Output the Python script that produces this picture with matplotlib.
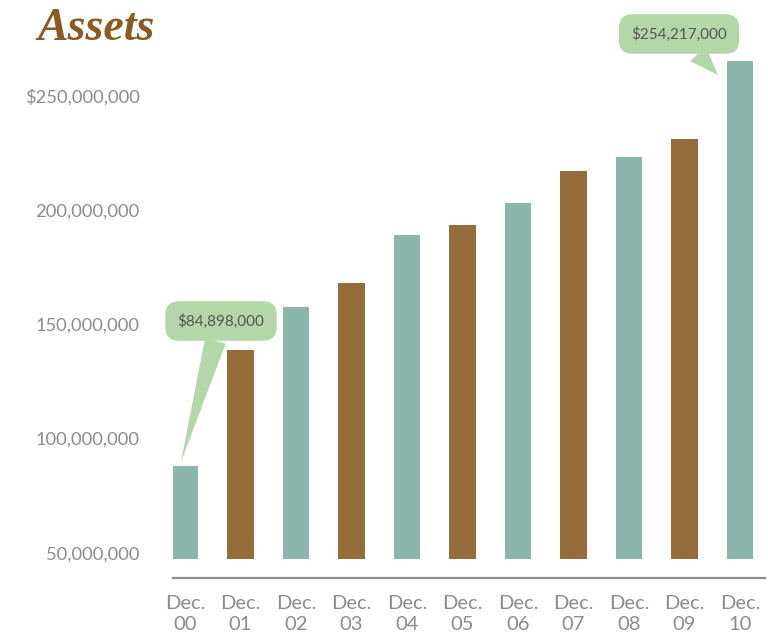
import matplotlib
matplotlib.use("Agg")
import matplotlib.pyplot as plt

categories = ["Dec.\n00", "Dec.\n01", "Dec.\n02", "Dec.\n03", "Dec.\n04", "Dec.\n05",
              "Dec.\n06", "Dec.\n07", "Dec.\n08", "Dec.\n09", "Dec.\n10"]
assets = [88.1e6, 138.8e6, 157.7e6, 168.2e6, 189.2e6, 193.5e6,
          203.2e6, 217.2e6, 223.3e6, 231.2e6, 265.3e6]
bar_base = 47.4e6
ytick_values = [50e6, 100e6, 150e6, 200e6, 250e6]
ytick_labels = ["50,000,000", "100,000,000", "150,000,000", "200,000,000", "$250,000,000"]
callout_first = "$84,898,000"
callout_last = "$254,217,000"

teal = "#8bb6ab"
brown = "#946d3a"
green = "#b4d7a9"
gray = "#8c8c8c"
colors = [teal if i % 2 == 0 else brown for i in range(len(assets))]

W, H = 768, 632
fig = plt.figure(figsize=(W / 100, H / 100), dpi=100)

ylo, yhi = 39.0e6, 270e6
ppm = 2.285  # px per million
ax_bottom_px = 578
ax_h_px = (yhi - ylo) / 1e6 * ppm
ax_left_px, ax_right_px = 173, 765
ax = fig.add_axes([ax_left_px / W, (H - ax_bottom_px) / H,
                   (ax_right_px - ax_left_px) / W, ax_h_px / H])

x = list(range(len(assets)))
heights = [v - bar_base for v in assets]
ax.bar(x, heights, bottom=bar_base, width=0.47, color=colors, zorder=2)

ax.set_ylim(ylo, yhi)
ax.set_xlim(-0.216, 10.45)

for s in ["top", "right", "left"]:
    ax.spines[s].set_visible(False)
ax.spines["bottom"].set_color(gray)
ax.spines["bottom"].set_linewidth(1.6)

ax.set_yticks(ytick_values)
ax.set_yticklabels(ytick_labels, fontfamily="Lato", fontsize=13.2, color=gray)
ax.tick_params(axis="y", length=0, pad=24)
ax.set_xticks(x)
ax.set_xticklabels(categories, fontfamily="Lato", fontsize=14.5, color=gray,
                   linespacing=1.3)
ax.tick_params(axis="x", length=0, pad=12)

fig.text(37 / W, 1 - 40 / H, "Assets", fontfamily="Liberation Serif",
         fontstyle="italic", fontweight="bold", fontsize=33, color="#8a5a22",
         va="baseline", ha="left")

def px_to_data(px, py):
    inv = ax.transData.inverted()
    return tuple(inv.transform((px, H - py)))

def callout(text, xy, xytext):
    ax.annotate(text, xy=xy, xytext=xytext, textcoords="data",
                ha="center", va="center", fontfamily="Lato", fontsize=11,
                color="#555555", zorder=5,
                bbox=dict(boxstyle="round,pad=0.8,rounding_size=0.9",
                          fc=green, ec="none"),
                arrowprops=dict(arrowstyle="wedge,tail_width=1.4",
                                fc=green, ec="none", shrinkA=0, shrinkB=0),
                annotation_clip=False)

fig.canvas.draw()
callout(callout_first, px_to_data(181, 462), px_to_data(221, 321))
callout(callout_last, px_to_data(718, 75), px_to_data(679, 34))

fig.savefig("out.png", dpi=100)
